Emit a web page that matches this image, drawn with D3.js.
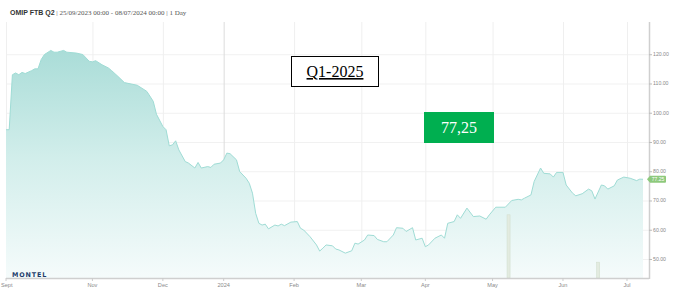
<!DOCTYPE html>
<html><head><meta charset="utf-8">
<script src="https://cdn.jsdelivr.net/npm/d3@7"></script>
<style>html,body{margin:0;padding:0;background:#fff;overflow:hidden}</style>
</head><body>
<svg id="c" width="673" height="293"></svg>
<script>
const dates = ["2023-09-25","2023-09-26","2023-09-27","2023-09-28","2023-09-29","2023-10-02","2023-10-03","2023-10-05","2023-10-06","2023-10-09","2023-10-10","2023-10-11","2023-10-13","2023-10-16","2023-10-17","2023-10-19","2023-10-20","2023-10-25","2023-10-27","2023-10-31",
"2023-11-01","2023-11-02","2023-11-06","2023-11-08","2023-11-09","2023-11-13","2023-11-15","2023-11-21","2023-11-24","2023-11-28","2023-11-29",
"2023-12-01","2023-12-04","2023-12-05","2023-12-06","2023-12-07","2023-12-08","2023-12-12","2023-12-13","2023-12-15","2023-12-18","2023-12-19","2023-12-21","2023-12-22","2023-12-27","2023-12-29",
"2024-01-02","2024-01-03","2024-01-04","2024-01-08","2024-01-09","2024-01-11","2024-01-12","2024-01-15","2024-01-16","2024-01-17","2024-01-18","2024-01-19","2024-01-22","2024-01-24","2024-01-25","2024-01-26","2024-01-29","2024-01-31",
"2024-02-02","2024-02-05","2024-02-06","2024-02-08","2024-02-12","2024-02-13","2024-02-14","2024-02-15","2024-02-19","2024-02-20","2024-02-21","2024-02-23","2024-02-27","2024-02-28","2024-02-29",
"2024-03-04","2024-03-05","2024-03-07","2024-03-08","2024-03-12","2024-03-13","2024-03-15","2024-03-18","2024-03-20","2024-03-21","2024-03-25","2024-03-26","2024-03-28",
"2024-04-02","2024-04-03","2024-04-05","2024-04-09","2024-04-10","2024-04-11","2024-04-15","2024-04-16","2024-04-17","2024-04-19","2024-04-23","2024-04-25","2024-04-29","2024-04-30",
"2024-05-03","2024-05-08","2024-05-10","2024-05-14","2024-05-15","2024-05-16","2024-05-20","2024-05-21","2024-05-23","2024-05-24","2024-05-28","2024-05-29","2024-05-30",
"2024-06-03","2024-06-04","2024-06-06","2024-06-07","2024-06-11","2024-06-13","2024-06-14","2024-06-17","2024-06-19","2024-06-20","2024-06-21","2024-06-25","2024-06-26","2024-06-28",
"2024-07-02","2024-07-04","2024-07-05","2024-07-08"];
const prices = [94.2,94.2,113.0,113.6,113.0,113.8,113.4,114.4,115.0,115.0,118.2,119.9,121.3,120.7,120.7,121.3,120.7,120.4,119.9,117.6,
117.4,117.8,116.4,115.3,114.4,112.4,110.3,109.4,107.3,103.9,99.5,
95.3,94.2,88.7,89.0,90.4,87.3,83.3,82.8,81.1,83.0,81.1,81.6,81.3,82.4,82.8,
83.9,86.2,86.0,83.9,79.9,77.6,75.9,72.5,65.6,62.2,61.6,61.9,60.3,61.6,61.3,61.9,61.4,62.6,
62.8,60.5,59.9,57.6,54.8,52.7,53.7,54.8,54.5,53.4,53.1,52.0,52.8,55.4,55.1,
56.5,58.2,58.0,56.7,55.9,55.9,58.2,60.7,60.5,59.4,60.7,56.5,57.1,
54.2,54.8,57.1,58.2,57.1,62.2,62.8,65.1,63.9,67.4,64.5,64.7,63.6,65.1,
67.7,67.7,70.0,70.4,70.2,70.8,71.9,76.5,81.1,79.3,79.1,78.0,79.6,
79.6,75.3,72.5,71.6,72.3,73.9,73.3,70.5,75.3,75.0,73.9,75.0,77.0,78.0,
77.6,76.8,77.3,77.25];
const volumeDates = ["2024-05-09","2024-06-18"];
const volumes = [800, 200];
const holidays = ["2023-12-25","2023-12-26","2024-01-01","2024-03-29","2024-04-01","2024-05-01"];
const monthTickDates = ["2023-09-25","2023-11-01","2023-12-01","2024-01-02","2024-02-01","2024-03-01","2024-04-02","2024-05-02","2024-06-03","2024-07-01"];
const monthTickLabels = ["Sept","Nov","Dec","2024","Feb","Mar","Apr","May","Jun","Jul"];
const yTicks = [50,60,70,80,90,100,110,120];
const lastValue = 77.25;
const lastLabel = "77.25";
const contractLabel = "Q1-2025";
const priceLabel = "77,25";

// trading calendar (weekdays minus holidays)
const fmt = d3.utcFormat("%Y-%m-%d");
const days = d3.utcDays(new Date("2023-09-25"), new Date("2024-07-09"))
  .filter(d => d.getUTCDay() !== 0 && d.getUTCDay() !== 6 && !holidays.includes(fmt(d)))
  .map(fmt);
const idx = new Map(days.map((d,i)=>[d,i]));

const svg = d3.select("#c");
const L = 6, R = 643, AX = 649, TOP = 22, BOT = 278;
const x = d3.scaleLinear().domain([0, days.length-1]).range([L, R]);
const y = d3.scaleLinear().domain([43.5, 130]).range([BOT, 25]);
const yv = d3.scaleLinear().domain([0, 1000]).range([BOT, BOT-79]);

const defs = svg.append("defs");
const g = defs.append("linearGradient").attr("id","fill").attr("gradientUnits","userSpaceOnUse")
  .attr("x1",0).attr("y1",40).attr("x2",0).attr("y2",BOT);
g.append("stop").attr("offset",0).attr("stop-color","#a6dbd6");
g.append("stop").attr("offset",0.5).attr("stop-color","#d2eeeb");
g.append("stop").attr("offset",1).attr("stop-color","#f5fbfb");

// horizontal grid
svg.append("g").selectAll("line").data(yTicks).join("line")
  .attr("x1",L).attr("x2",AX).attr("y1",d=>y(d)+0.5).attr("y2",d=>y(d)+0.5)
  .attr("stroke","#f1f1f1").attr("stroke-width",1);
// vertical grid
svg.append("g").selectAll("line").data(monthTickDates).join("line")
  .attr("x1",d=>x(idx.get(d))+0.5).attr("x2",d=>x(idx.get(d))+0.5)
  .attr("y1",TOP).attr("y2",BOT)
  .attr("stroke",(d,i)=>monthTickLabels[i]==="2024" ? "#dcdcdc" : "#efefef")
  .attr("stroke-width",1);

const data = dates.map((d,i)=>({i: idx.get(d), v: prices[i]}));
svg.append("path").datum(data)
  .attr("d", d3.area().x(d=>x(d.i)).y0(BOT).y1(d=>y(d.v)))
  .attr("fill","url(#fill)");
svg.append("path").datum(data)
  .attr("d", d3.line().x(d=>x(d.i)).y(d=>y(d.v)))
  .attr("fill","none").attr("stroke","#9fdcd5").attr("stroke-width",1);

// volume bars
svg.append("g").selectAll("rect").data(volumeDates).join("rect")
  .attr("x",d=>x(idx.get(d))-1.5).attr("width",3)
  .attr("y",(d,i)=>yv(volumes[i])).attr("height",(d,i)=>BOT-yv(volumes[i]))
  .attr("fill","#e3ebe0").attr("stroke","#d3dfd0").attr("stroke-width",0.6);

// axes lines
svg.append("line").attr("x1",L).attr("x2",AX).attr("y1",BOT+0.5).attr("y2",BOT+0.5).attr("stroke","#cfcfcf").attr("stroke-width",1.5);
svg.append("line").attr("x1",AX+0.5).attr("x2",AX+0.5).attr("y1",TOP).attr("y2",BOT+1).attr("stroke","#cfcfcf").attr("stroke-width",1.5);

// y axis ticks/labels
const ya = svg.append("g");
ya.selectAll("line").data(yTicks).join("line")
  .attr("x1",AX).attr("x2",AX+3).attr("y1",d=>y(d)+0.5).attr("y2",d=>y(d)+0.5).attr("stroke","#bbb");
ya.selectAll("text").data(yTicks).join("text")
  .attr("x",AX+4).attr("y",d=>y(d)+2)
  .attr("font-family","Liberation Sans, Arial, sans-serif").attr("font-size",5.2).attr("fill","#8a8a8a")
  .text(d=>d3.format(".2f")(d));

// x axis labels
const xa = svg.append("g");
xa.selectAll("line").data(monthTickDates).join("line")
  .attr("x1",d=>x(idx.get(d))).attr("x2",d=>x(idx.get(d))).attr("y1",BOT).attr("y2",BOT+3).attr("stroke","#ccc");
xa.selectAll("text").data(monthTickDates).join("text")
  .attr("x",(d,i)=> i===0 ? 1 : x(idx.get(d)))
  .attr("text-anchor",(d,i)=> i===0 ? "start" : "middle")
  .attr("y",BOT+9)
  .attr("font-family","Liberation Sans, Arial, sans-serif").attr("font-size",5.6).attr("fill","#8a8a8a")
  .text((d,i)=>monthTickLabels[i]);

// last value tag
const ly = y(lastValue);
svg.append("path")
  .attr("d",`M${AX-2},${ly} L${AX+1},${ly-3.5} L${AX+16},${ly-3.5} Q${AX+17},${ly-3.5} ${AX+17},${ly-2.5} L${AX+17},${ly+2.5} Q${AX+17},${ly+3.5} ${AX+16},${ly+3.5} L${AX+1},${ly+3.5} Z`)
  .attr("fill","#8dc97c");
svg.append("text").attr("x",AX+9).attr("y",ly+1.8).attr("text-anchor","middle")
  .attr("font-family","Liberation Sans, Arial, sans-serif").attr("font-size",5).attr("fill","#fff").text(lastLabel);

// title
const t = svg.append("text").attr("x",10).attr("y",15).attr("font-size",7);
t.append("tspan").attr("font-family","Liberation Sans, Arial, sans-serif").attr("font-weight","bold").attr("fill","#333").text("OMIP FTB Q2");
t.append("tspan").attr("font-family","Liberation Serif, serif").attr("fill","#555").text(" | 25/09/2023 00:00 - 08/07/2024 00:00 | 1 Day");

// logo
svg.append("text").attr("x",12).attr("y",276.5)
  .attr("font-family","DejaVu Sans, sans-serif").attr("font-weight","bold").attr("font-size",6.4)
  .attr("letter-spacing",0.9).attr("fill","#1d3d6b").text("MONTEL");

// annotation boxes
svg.append("rect").attr("x",291.5).attr("y",56.5).attr("width",87).attr("height",30)
  .attr("fill","#fff").attr("stroke","#000").attr("stroke-width",1);
svg.append("text").attr("x",335).attr("y",77).attr("text-anchor","middle")
  .attr("font-family","Liberation Serif, serif").attr("font-size",16).attr("fill","#000")
  .attr("text-decoration","underline").text(contractLabel);
svg.append("rect").attr("x",424).attr("y",112).attr("width",70).attr("height",31).attr("fill","#00af50");
svg.append("text").attr("x",459).attr("y",133).attr("text-anchor","middle")
  .attr("font-family","Liberation Serif, serif").attr("font-size",16).attr("fill","#fff").text(priceLabel);
</script>
</body></html>
